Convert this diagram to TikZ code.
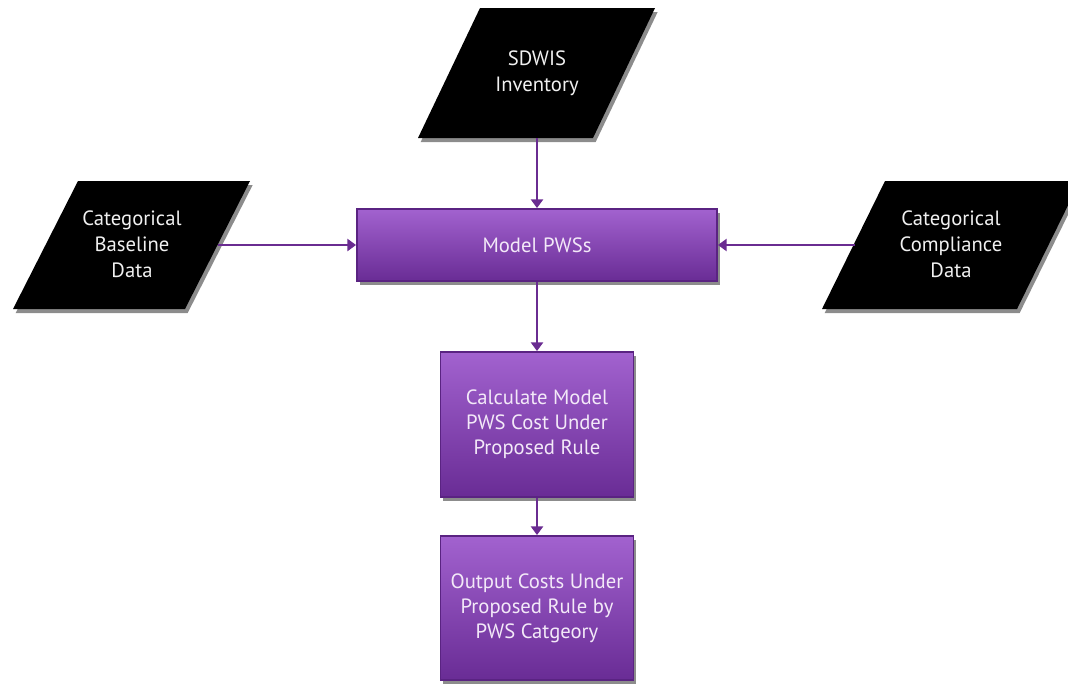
\documentclass[tikz,border=0pt]{standalone}
\usepackage{fontspec}
\setmainfont{PT Sans}
\usetikzlibrary{arrows.meta,shadows}
\definecolor{ptop}{HTML}{A262CF}
\definecolor{pbot}{HTML}{692C95}
\definecolor{pedge}{HTML}{5A2382}
\definecolor{parrow}{HTML}{6A2C91}
\definecolor{ptext}{HTML}{F3E9F8}
\tikzset{
  procbox/.style={draw=pedge, line width=1.4pt, top color=ptop, bottom color=pbot,
    text=ptext, align=center, inner sep=0pt,
    font=\fontsize{15.5pt}{18.8pt}\selectfont,
    drop shadow={shadow xshift=2pt, shadow yshift=-3pt, opacity=0.45, fill=black}},
  datashape/.style={fill=black,
    drop shadow={shadow xshift=2pt, shadow yshift=-3pt, opacity=0.45, fill=black}},
  datatext/.style={text=white!94!black, align=center, inner sep=0pt,
    font=\fontsize{15.5pt}{19.5pt}\selectfont},
  flow/.style={draw=parrow, line width=1.6pt, -{Triangle[width=9pt,length=6.5pt]}}
}
\begin{document}
\begin{tikzpicture}[x=0.75pt,y=-0.75pt]
\clip (0,0) rectangle (1068,683);
\fill[white] (0,0) rectangle (1068,683);
% data parallelograms
\path[datashape] (480,8) -- (655,8) -- (593,138) -- (418,138) -- cycle;
\path[datashape] (78,181) -- (250,181) -- (185,309) -- (13,309) -- cycle;
\path[datashape] (885,181) -- (1080,181) -- (1017,309) -- (822,309) -- cycle;
\node[datatext] (sdwis) at (537,73) {SDWIS\\Inventory};
\node[datatext] (base) at (132,244) {Categorical\\Baseline\\Data};
\node[datatext] (comp) at (951,244) {Categorical\\Compliance\\Data};
\coordinate (sdwisout) at (537,138);
\coordinate (baseout) at (218,245);
\coordinate (compout) at (855,245);
% process boxes
\node[procbox, minimum width=270pt, minimum height=54pt] (model) at (537,245) {Model PWSs};
\node[procbox, minimum width=144.75pt, minimum height=108.75pt] (calc) at (537,424.5)
  {Calculate Model\\PWS Cost Under\\Proposed Rule};
\node[procbox, minimum width=144.75pt, minimum height=108pt] (output) at (537,608)
  {Output Costs Under\\Proposed Rule by\\PWS Catgeory};
% connectors
\draw[flow] (sdwisout) -- (model.north);
\draw[flow] (baseout) -- (model.west);
\draw[flow] (compout) -- (model.east);
\draw[flow] (model.south) -- (calc.north);
\draw[flow] (calc.south) -- (output.north);
\end{tikzpicture}
\end{document}
